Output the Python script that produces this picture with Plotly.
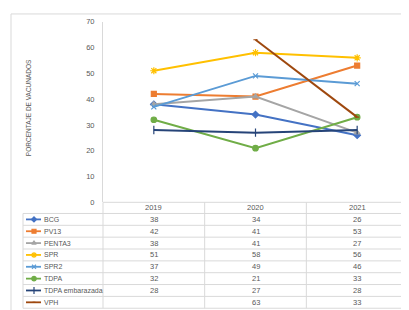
import plotly.graph_objects as go

years = ["2019", "2020", "2021"]
series_names = ["BCG", "PV13", "PENTA3", "SPR", "SPR2", "TDPA", "TDPA embarazada", "VPH"]
bcg = [38, 34, 26]
pv13 = [42, 41, 53]
penta3 = [38, 41, 27]
spr = [51, 58, 56]
spr2 = [37, 49, 46]
tdpa = [32, 21, 33]
tdpa_emb = [28, 27, 28]
vph = [None, 63, 33]
series_values = [bcg, pv13, penta3, spr, spr2, tdpa, tdpa_emb, vph]
colors = ["#4472C4", "#ED7D31", "#A5A5A5", "#FFC000", "#5B9BD5", "#70AD47", "#264478", "#9E480E"]
symbols = ["diamond", "square", "triangle-up", "asterisk-open", "x-thin-open", "circle", "line-ns-open", "line-ew-open"]
msizes = [5, 5, 5, 6, 5, 5.5, 6, 3]

W, H = 409, 310
# layout in pixels
PL, PR, PT, PB = 95, 400, 10, 196
FONT = "Liberation Sans"
GRAY = "#595959"
LINE = "#D9D9D9"

fig = go.Figure()
for name, vals, c, s, ms in zip(series_names, series_values, colors, symbols, msizes):
    fig.add_trace(go.Scatter(
        x=years, y=vals, name=name, mode="lines+markers",
        line=dict(color=c, width=2),
        marker=dict(symbol=s, size=ms, color=c, line=dict(color=c, width=1.2)),
        connectgaps=False, showlegend=False, xaxis="x", yaxis="y"))

# pixel overlay axis for table legend samples
row_h = 12.2
row0 = 207.5
for i, (name, c, s, ms) in enumerate(zip(series_names, colors, symbols, msizes)):
    yc = row0 + row_h * (i + 0.5)
    fig.add_trace(go.Scatter(
        x=[18, 26, 33], y=[yc, yc, yc], mode="lines", line=dict(color=c, width=1.8),
        showlegend=False, hoverinfo="skip", xaxis="x2", yaxis="y2"))
    fig.add_trace(go.Scatter(
        x=[26], y=[yc], mode="markers",
        marker=dict(symbol=s, size=max(ms - 1, 2), color=c, line=dict(color=c, width=1.2)),
        showlegend=False, hoverinfo="skip", xaxis="x2", yaxis="y2"))

shapes = []
def hline(x0, x1, y):
    shapes.append(dict(type="line", xref="x2", yref="y2", x0=x0, x1=x1, y0=y, y1=y,
                       line=dict(color=LINE, width=1)))
def vline(x, y0, y1):
    shapes.append(dict(type="line", xref="x2", yref="y2", x0=x, x1=x, y0=y0, y1=y1,
                       line=dict(color=LINE, width=1)))

n = len(series_names)
tbl_bottom = row0 + row_h * n
hline(PL, PR, PB)
for i in range(n + 1):
    hline(15, PR, row0 + row_h * i)
vline(15, row0, tbl_bottom)
colw = (PR - PL) / len(years)
for j in range(len(years) + 1):
    vline(PL + colw * j, PB, tbl_bottom)
# outer border
shapes.append(dict(type="rect", xref="x2", yref="y2", x0=3, x1=407, y0=2, y1=308,
                   line=dict(color=LINE, width=1), fillcolor="rgba(0,0,0,0)", layer="below"))

annotations = []
for j, yr in enumerate(years):
    annotations.append(dict(x=PL + colw * (j + 0.5), y=(PB + row0) / 2, xref="x2", yref="y2",
                            text=yr, showarrow=False, font=dict(family=FONT, size=7.5, color=GRAY)))
for i, (name, vals) in enumerate(zip(series_names, series_values)):
    yc = row0 + row_h * (i + 0.5)
    annotations.append(dict(x=34, y=yc, xref="x2", yref="y2", text=name, xanchor="left",
                            showarrow=False, font=dict(family=FONT, size=7, color=GRAY)))
    for j, v in enumerate(vals):
        if v is None:
            continue
        annotations.append(dict(x=PL + colw * (j + 0.5), y=yc, xref="x2", yref="y2", text=str(v),
                                showarrow=False, font=dict(family=FONT, size=7.5, color=GRAY)))
annotations.append(dict(x=20, y=99, xref="x2", yref="y2", text="PORCENTAJE DE VACUNADOS",
                        textangle=-90, showarrow=False, font=dict(family=FONT, size=6.5, color=GRAY)))

fig.update_layout(
    width=W, height=H, autosize=False,
    margin=dict(l=0, r=0, t=0, b=0),
    paper_bgcolor="white", plot_bgcolor="rgba(0,0,0,0)",
    xaxis=dict(domain=[PL / W, PR / W], range=[-0.5, 2.5], type="category", anchor="y",
               showticklabels=False, showgrid=False, zeroline=False, showline=False, ticks=""),
    yaxis=dict(domain=[1 - PB / H, 1 - PT / H], range=[0, 70], dtick=10, anchor="x",
               showgrid=False, zeroline=False, showline=True, linecolor=LINE, linewidth=1,
               ticks="", tickfont=dict(family=FONT, size=7.5, color=GRAY), ticklabelstandoff=6),
    xaxis2=dict(domain=[0, 1], range=[0, W], visible=False, anchor="y2"),
    yaxis2=dict(domain=[0, 1], range=[H, 0], visible=False, anchor="x2"),
    shapes=shapes, annotations=annotations,
)
fig.write_html("out.html")
